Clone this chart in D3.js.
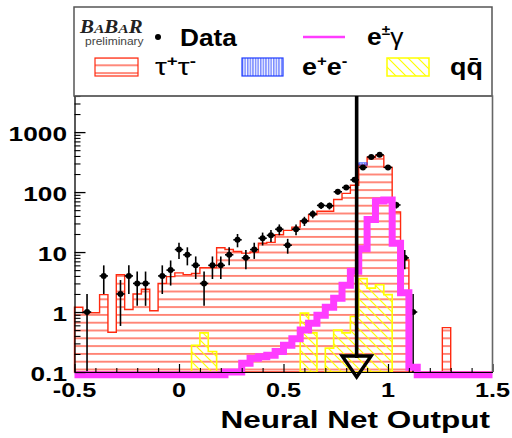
<!DOCTYPE html>
<html>
<head>
<meta charset="utf-8">
<script src="https://cdn.jsdelivr.net/npm/d3@7"></script>
<style>
  html, body { margin: 0; padding: 0; background: #fff; }
  svg { display: block; }
</style>
</head>
<body>
<svg id="chart" width="512" height="438"></svg>
<script>
// Binning of the neural-net output: 50 bins of width 0.04 from -0.5 to 1.5
const xMin = -0.5;
const xMax = 1.5;
const binWidth = 0.04;

// Events per bin
const dataCounts = [
  0, 1, 0, 4, 0, 2, 4, 3, 3, 0,
  4, 5, 11, 9, 6, 3, 6, 6, 9, 16,
  8, 11, 17, 19, 24, 13, 24, 33, 43, 60,
  59, 101, 119, 160, 258, 385, 418, 258, 61, 8,
  1, 0, 0, 0, 0, 0, 0, 0, 0, 0
];
const tauTau = [
  1.2, 0.97, 0.97, 1.95, 0.46, 4.2, 1.1, 2.0, 2.4, 1.05,
  3.0, 3.9, 4.5, 4.2, 4.4, 5.5, 5.5, 11.8, 11.0, 10.2,
  9.6, 10.0, 14, 14.5, 19.4, 23, 26, 33, 42, 48,
  48, 75, 95, 130, 282, 380, 405, 258, 46.5, 7.4,
  0, 0, 0, 0, 0.55, 0, 0, 0, 0, 0
];
const eePair = [
  0, 0, 0, 0, 0, 0, 0, 0, 0, 0,
  0, 0, 0, 0, 0, 0, 0, 0, 0, 0,
  0, 0, 0, 0, 0, 0, 0, 0, 0, 0,
  0, 0, 0, 0, 25, 0, 0, 0, 0, 0,
  0, 0, 0, 0, 0, 0, 0, 0, 0, 0
];
const qqBar = [
  0, 0, 0, 0, 0, 0, 0, 0, 0, 0,
  0, 0, 0, 0, 0.28, 0.45, 0.22, 0, 0, 0,
  0, 0, 0, 0, 0, 0, 0, 0.96, 0.45, 0,
  0.25, 0.5, 0.45, 0.84, 3.6, 2.5, 2.85, 1.95, 0, 0,
  0, 0, 0, 0, 0, 0, 0, 0, 0, 0
];
const eGamma = [
  0, 0, 0, 0, 0, 0, 0, 0, 0, 0,
  0, 0, 0, 0, 0, 0, 0, 0, 0.1, 0.1,
  0.14, 0.17, 0.18, 0.19, 0.22, 0.28, 0.36, 0.5, 0.65, 0.88,
  1.2, 1.7, 2.8, 4.8, 11.3, 35, 71, 74, 14, 2.1,
  0.12, 0, 0, 0, 0, 0, 0, 0, 0, 0
];

// Selection cut marked by the arrow
const cutValue = 0.85;

// Axis ticks and labels
const xMajorTicks = [-0.5, 0, 0.5, 1, 1.5];
const xTickLabels = ["-0.5", "0", "0.5", "1", "1.5"];
const yMajorTicks = [0.1, 1, 10, 100, 1000];
const yTickLabels = ["0.1", "1", "10", "100", "1000"];
const xTitle = "Neural Net Output";

const yMin = 0.1, yMax = 4000;
const yFloor = 0.09; // empty bins of the e±γ line sit just under the axis

const FONT = "'Liberation Sans', Arial, Helvetica, sans-serif";
const RED = "#ff2a10", BLUE = "#1f3cff", YELLOW = "#ffff00", MAGENTA = "#ff3cff";

const svg = d3.select("#chart");
const x = d3.scaleLinear().domain([xMin, xMax]).range([74.5, 492.5]);
const y = d3.scaleLog().domain([yMin, yMax]).range([372, 96]);
const nBins = tauTau.length;
const binLo = d3.range(nBins).map(i => xMin + i * binWidth);
const binHi = binLo.map(v => v + binWidth);

// ---- fill patterns ----
const defs = svg.append("defs");
const pTau = defs.append("pattern").attr("id", "tauHatch")
  .attr("patternUnits", "userSpaceOnUse").attr("width", 8).attr("height", 7.8);
pTau.append("line").attr("x1", 0).attr("x2", 8).attr("y1", 2.9).attr("y2", 2.9)
  .attr("stroke", RED).attr("stroke-width", 1.1);
const pEe = defs.append("pattern").attr("id", "eeHatch")
  .attr("patternUnits", "userSpaceOnUse").attr("width", 2.6).attr("height", 10);
pEe.append("line").attr("x1", 0.8).attr("x2", 0.8).attr("y1", 0).attr("y2", 10)
  .attr("stroke", BLUE).attr("stroke-width", 0.9);
const pQq = defs.append("pattern").attr("id", "qqHatch")
  .attr("patternUnits", "userSpaceOnUse").attr("width", 10).attr("height", 10);
pQq.append("path").attr("d", "M-5,5 L5,15 M0,0 L10,10 M5,-5 L15,5")
  .attr("stroke", YELLOW).attr("stroke-width", 1.2).attr("fill", "none");

// ---- text helper: Helvetica-like bold, slightly widened ----
function label(parent, px, py, sx, anchor, size, weight) {
  return parent.append("g")
    .attr("transform", `translate(${px},${py}) scale(${sx},1)`)
    .append("text")
    .attr("text-anchor", anchor)
    .attr("font-family", FONT)
    .attr("font-size", size)
    .attr("font-weight", weight || "bold")
    .attr("fill", "#000");
}

// ---- legend ----
const leg = svg.append("g");
leg.append("rect").attr("x", 74).attr("y", 7).attr("width", 418).attr("height", 89)
  .attr("fill", "#fff").attr("stroke", "#555").attr("stroke-width", 1.5);

const babar = label(leg, 80, 33, 1.16, "start", 18, "bold")
  .attr("font-family", "'Liberation Serif', 'Times New Roman', serif")
  .attr("font-style", "italic").attr("fill", "#222");
[["B", 18], ["A", 13.5], ["B", 18], ["A", 13.5], ["R", 18]].forEach(([c, s]) =>
  babar.append("tspan").attr("font-size", s).text(c));
label(leg, 85, 45, 1.2, "start", 10, "normal").attr("fill", "#444").text("preliminary");

leg.append("circle").attr("cx", 158).attr("cy", 37).attr("r", 3).attr("fill", "#000");
label(leg, 180, 46, 1.14, "start", 23).text("Data");

leg.append("line").attr("x1", 303).attr("x2", 345).attr("y1", 37).attr("y2", 37)
  .attr("stroke", MAGENTA).attr("stroke-width", 2.5);
const eg = label(leg, 367, 45, 1.1, "start", 24);
eg.append("tspan").text("e");
eg.append("tspan").attr("font-size", 14).attr("dy", -10).text("±");
eg.append("tspan").attr("font-weight", "normal").attr("dy", 10).text("γ");

leg.append("rect").attr("x", 95).attr("y", 58).attr("width", 43).attr("height", 18)
  .attr("fill", "url(#tauHatch)").attr("stroke", RED).attr("stroke-width", 1.2);
const tt = label(leg, 155, 75, 1.25, "start", 24);
tt.append("tspan").attr("font-weight", "normal").text("τ");
tt.append("tspan").attr("font-size", 15).attr("dy", -9).text("+");
tt.append("tspan").attr("font-weight", "normal").attr("dy", 9).text("τ");
tt.append("tspan").attr("font-size", 15).attr("dy", -9).text("-");

leg.append("rect").attr("x", 242).attr("y", 58).attr("width", 41).attr("height", 18)
  .attr("fill", "url(#eeHatch)").attr("stroke", BLUE).attr("stroke-width", 1.2);
const ee = label(leg, 302, 75, 1.12, "start", 24);
ee.append("tspan").text("e");
ee.append("tspan").attr("font-size", 15).attr("dy", -9).text("+");
ee.append("tspan").attr("dy", 9).text("e");
ee.append("tspan").attr("font-size", 15).attr("dy", -9).text("-");

leg.append("rect").attr("x", 387).attr("y", 58).attr("width", 42).attr("height", 18)
  .attr("fill", "url(#qqHatch)").attr("stroke", YELLOW).attr("stroke-width", 1.5);
label(leg, 450, 75, 1.12, "start", 24).text("qq\u0304");

// ---- histograms ----
const plot = svg.append("g");
const line = d3.line().x(d => d[0]).y(d => d[1]);

function stepPoints(values, floor, from, to) {
  const pts = [[x(binLo[from]), y(floor)]];
  for (let i = from; i <= to; i++) {
    const v = values[i] > 0 ? values[i] : floor;
    pts.push([x(binLo[i]), y(v)], [x(binHi[i]), y(v)]);
  }
  pts.push([x(binHi[to]), y(floor)]);
  return pts;
}

// tau+tau- background
const tauPts = stepPoints(tauTau, yMin, 0, nBins - 1);
plot.append("path").attr("d", line(tauPts) + "Z")
  .attr("fill", "url(#tauHatch)").attr("stroke", RED).attr("stroke-width", 1.4);

// e+e- stacked on top of tau+tau-
binLo.forEach((lo, i) => {
  if (eePair[i] <= 0) return;
  plot.append("rect")
    .attr("x", x(lo)).attr("width", x(binHi[i]) - x(lo))
    .attr("y", y(tauTau[i] + eePair[i]))
    .attr("height", y(tauTau[i]) - y(tauTau[i] + eePair[i]))
    .attr("fill", "url(#eeHatch)").attr("stroke", BLUE).attr("stroke-width", 0.8);
});

// q qbar: one outline per run of filled bins
let run = null;
for (let i = 0; i <= nBins; i++) {
  const filled = i < nBins && qqBar[i] > 0;
  if (filled && run === null) run = i;
  if (!filled && run !== null) {
    plot.append("path").attr("d", line(stepPoints(qqBar, yMin, run, i - 1)) + "Z")
      .attr("fill", "url(#qqHatch)").attr("stroke", YELLOW).attr("stroke-width", 1.6);
    run = null;
  }
}

// data points with Poisson errors
const dataG = plot.append("g");
binLo.forEach((lo, i) => {
  const n = dataCounts[i];
  if (n <= 0) return;
  const cx = x(lo + binWidth / 2), cy = y(n);
  const err = Math.sqrt(n);
  const lowV = Math.max(n - err, yMin);
  dataG.append("line").attr("x1", cx).attr("x2", cx)
    .attr("y1", y(lowV)).attr("y2", y(n + err))
    .attr("stroke", "#000").attr("stroke-width", 1.6);
  dataG.append("line").attr("x1", x(lo)).attr("x2", x(binHi[i]))
    .attr("y1", cy).attr("y2", cy).attr("stroke", "#000").attr("stroke-width", 1.6);
  dataG.append("circle").attr("cx", cx).attr("cy", cy).attr("r", 3).attr("fill", "#000");
});

// e±gamma thick line
plot.append("path").attr("d", line(stepPoints(eGamma, yFloor, 0, nBins - 1).slice(1, -1)))
  .attr("fill", "none").attr("stroke", MAGENTA).attr("stroke-width", 7)
  .attr("stroke-linejoin", "miter").attr("stroke-linecap", "butt");

// ---- axes ----
const yMinor = [];
[0.1, 1, 10, 100, 1000].forEach(d => { for (let k = 2; k <= 9; k++) if (d * k <= yMax) yMinor.push(d * k); });
svg.append("g").attr("transform", "translate(74.5,0)")
  .call(d3.axisRight(y).tickValues(yMajorTicks).tickSize(11).tickSizeOuter(0).tickFormat(() => ""))
  .call(g => g.selectAll("line").attr("stroke", "#000").attr("stroke-width", 1.3))
  .call(g => g.select(".domain").attr("stroke", "#000").attr("stroke-width", 1.3));
svg.append("g").attr("transform", "translate(74.5,0)")
  .call(d3.axisRight(y).tickValues(yMinor).tickSize(6).tickSizeOuter(0).tickFormat(() => ""))
  .call(g => g.selectAll("line").attr("stroke", "#000").attr("stroke-width", 1.1))
  .call(g => g.select(".domain").remove());

const xMinor = d3.range(-4, 15).map(k => k / 10).filter(v => !xMajorTicks.some(m => Math.abs(m - v) < 1e-9));
svg.append("g").attr("transform", "translate(0,372)")
  .call(d3.axisTop(x).tickValues(xMajorTicks).tickSize(8).tickSizeOuter(0).tickFormat(() => ""))
  .call(g => g.selectAll("line").attr("stroke", "#000").attr("stroke-width", 1.2))
  .call(g => g.select(".domain").attr("stroke", "#000").attr("stroke-width", 1.2));
svg.append("g").attr("transform", "translate(0,372)")
  .call(d3.axisTop(x).tickValues(xMinor).tickSize(4).tickSizeOuter(0).tickFormat(() => ""))
  .call(g => g.selectAll("line").attr("stroke", "#000").attr("stroke-width", 1.1))
  .call(g => g.select(".domain").remove());

// frame top and right
svg.append("path")
  .attr("d", `M${x(xMin)},${y(yMax)} H${x(xMax)} V${y(yMin)}`)
  .attr("fill", "none").attr("stroke", "#666").attr("stroke-width", 1.6);

// cut arrow
const ax = x(cutValue);
const headTop = y(yMin) - 16, headTip = y(yMin) + 5;
svg.append("line").attr("x1", ax).attr("x2", ax).attr("y1", y(yMax)).attr("y2", headTop + 2)
  .attr("stroke", "#000").attr("stroke-width", 3.6);
svg.append("path")
  .attr("d", `M${ax - 14.5},${headTop} H${ax + 14.5} L${ax},${headTip} Z`)
  .attr("fill", "none").attr("stroke", "#000").attr("stroke-width", 3.4)
  .attr("stroke-linejoin", "miter");

// tick labels
yMajorTicks.forEach((v, i) => {
  label(svg, 67, y(v) + 8.5, 1.25, "end", 21).text(yTickLabels[i]);
});
xMajorTicks.forEach((v, i) => {
  label(svg, x(v), 397, 1.2, "middle", 21).text(xTickLabels[i]);
});
label(svg, 490, 428, 1.37, "end", 23).text(xTitle);
</script>
</body>
</html>
